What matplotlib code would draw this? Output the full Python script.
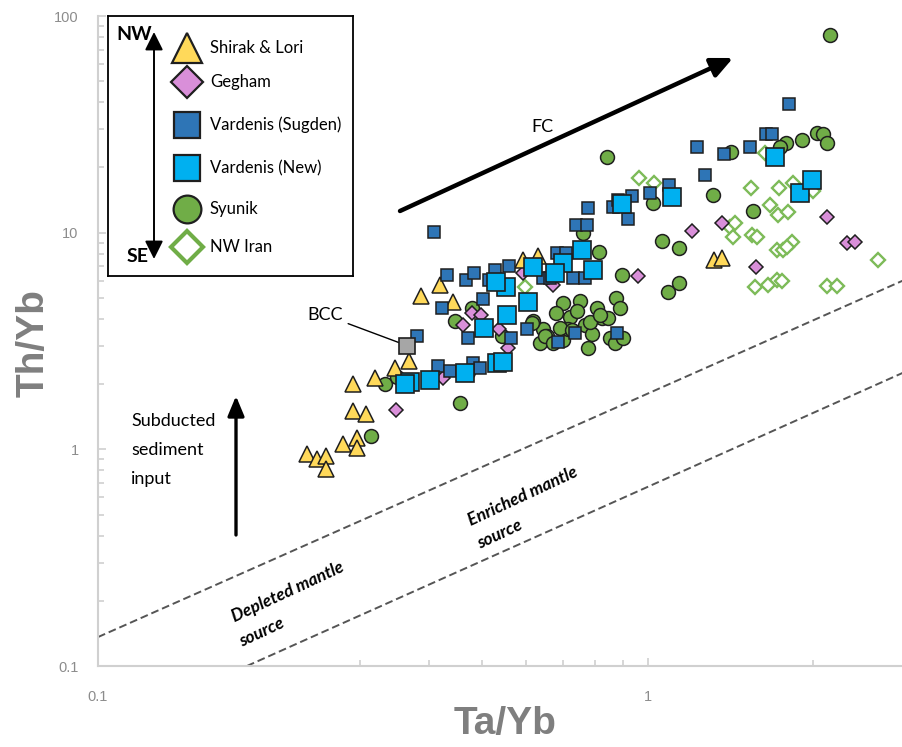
import matplotlib
matplotlib.use("Agg")
import matplotlib.pyplot as plt

W, H = 902, 747

# Ta/Yb vs Th/Yb by volcanic field
shirak_ta = [0.240, 0.250, 0.260, 0.260, 0.279, 0.296, 0.296, 0.291, 0.307, 0.291,
             0.319, 0.347, 0.368, 0.387, 0.419, 0.442, 0.593, 0.631, 1.318, 1.363]
shirak_th = [0.954, 0.905, 0.934, 0.813, 1.062, 1.131, 1.017, 1.508, 1.46, 2.01,
             2.14, 2.38, 2.57, 5.08, 5.71, 4.81, 7.45, 7.77, 7.45, 7.61]

gegham_ta = [0.348, 0.424, 0.461, 0.479, 0.497, 0.536, 0.557, 0.593, 0.672, 0.959,
             1.202, 1.363, 1.572, 2.116, 2.30, 2.38]
gegham_th = [1.52, 2.14, 3.73, 4.28, 4.15, 3.61, 2.95, 6.49, 5.71, 6.28,
             10.14, 11.04, 6.91, 11.77, 8.92, 9.02]

sugden_ta = [0.408, 0.380, 0.431, 0.422, 0.467, 0.483, 0.501, 0.527, 0.514, 0.559,
             0.471, 0.564, 0.603, 0.686, 0.737, 0.878, 0.683, 0.710, 0.644, 0.663,
             0.730, 0.768, 0.740, 0.775, 0.778, 0.864, 0.920, 0.935, 1.008, 1.092,
             1.228, 1.269, 1.375, 1.533, 1.639, 1.681, 1.805, 0.415, 0.436, 0.481,
             0.495, 0.882]
sugden_th = [10.03, 3.35, 6.35, 4.51, 6.02, 6.48, 4.92, 6.69, 6.02, 6.99,
             3.28, 3.28, 3.61, 3.14, 3.46, 3.46, 8.02, 8.02, 6.15, 6.15,
             6.15, 6.15, 10.81, 10.81, 12.95, 13.09, 11.52, 14.72, 15.20, 16.55,
             24.8, 18.40, 23.0, 24.8, 28.5, 28.5, 39.2, 2.435, 2.31, 2.51,
             2.38, 14.1]

new_ta = [0.369, 0.362, 0.401, 0.465, 0.531, 0.545, 0.503, 0.554, 0.605, 0.552,
          0.529, 0.618, 0.701, 0.678, 0.759, 0.794, 0.897, 1.106, 1.702, 1.890, 1.987]
new_th = [2.053, 2.01, 2.098, 2.26, 2.51, 2.54, 3.65, 4.15, 4.81, 5.59,
          5.89, 6.91, 7.21, 6.48, 8.28, 6.69, 13.51, 14.56, 22.3, 15.20, 17.45]

syunik_ta = [2.142, 0.842, 1.415, 1.782, 1.905, 2.029, 2.080, 2.116, 1.738, 1.021,
             1.313, 1.552, 1.060, 1.139, 0.897, 0.815, 1.087, 1.139, 0.875, 0.889,
             0.762, 0.752, 0.701, 0.681, 0.722, 0.743, 0.808, 0.825, 0.768, 0.791,
             0.853, 0.871, 0.778, 0.701, 0.644, 0.636, 0.716, 0.901, 0.692, 0.655,
             0.618, 0.446, 0.479, 0.543, 0.650, 0.672, 0.471, 0.455, 0.333, 0.350,
             0.314, 0.785, 0.846, 0.615, 0.818, 0.727]
syunik_th = [81.7, 22.3, 23.5, 25.9, 26.7, 28.8, 28.5, 25.9, 24.8, 13.66,
             14.87, 12.55, 9.12, 8.46, 6.35, 8.11, 5.35, 5.83, 5.02, 4.51,
             9.93, 4.86, 4.76, 4.28, 4.06, 4.37, 4.51, 4.02, 3.73, 3.42,
             3.28, 3.08, 2.95, 3.18, 3.61, 3.08, 3.61, 3.28, 3.65, 3.35,
             3.93, 3.93, 4.51, 3.35, 3.35, 3.08, 2.28, 1.64, 2.01, 2.16,
             1.155, 3.85, 4.02, 3.81, 4.15, 3.54]

iran_ta = [0.963, 1.025, 1.539, 1.731, 1.835, 1.946, 1.632, 1.667, 1.723, 1.797,
           1.410, 1.440, 1.427, 1.545, 1.578, 1.716, 1.760, 1.827, 1.789, 1.565,
           1.653, 1.716, 1.752, 2.116, 2.206, 2.62, 0.598, 1.995]
iran_th = [17.82, 16.90, 16.02, 16.02, 16.90, 15.7, 23.26, 13.37, 12.02, 12.41,
           10.58, 11.04, 9.51, 9.72, 9.51, 8.28, 8.28, 9.02, 8.55, 5.59,
           5.71, 6.02, 5.96, 5.65, 5.65, 7.45, 5.59, 15.5]

bcc_ta, bcc_th = 0.365, 3.01

# mantle array boundaries
upper_ta = [0.1, 2.95]
upper_th = [0.136, 6.1]
lower_ta = [0.1866, 2.95]
lower_th = [0.1, 2.29]

groups = [
    ("Shirak & Lori", "^", "#FFD95A", "#1f1f1f"),
    ("Gegham", "D", "#D98FD9", "#1f1f1f"),
    ("Vardenis (Sugden)", "s", "#2E75B6", "#1f1f1f"),
    ("Vardenis (New)", "s", "#00B0F0", "#1f1f1f"),
    ("Syunik", "o", "#70AD47", "#1f1f1f"),
    ("NW Iran", "D", "white", "#70AD47"),
]

AXIS_GREY = "#8c8c8c"
SPINE_GREY = "#d0d0d0"
narrow = ["Liberation Sans Narrow", "Liberation Sans", "DejaVu Sans"]
plt.rcParams["font.family"] = ["Lato", "DejaVu Sans"]


def fpx(x, y):
    return (x / W, 1 - y / H)


fig = plt.figure(figsize=(W / 100, H / 100), dpi=100)
ax = fig.add_axes([98 / W, 1 - 666 / H, (W - 98) / W, 650 / H])
ax.set_xscale("log")
ax.set_yscale("log")
ax.set_xlim(0.1, 2.9)
ax.set_ylim(0.1, 100)

for s in ["top", "right"]:
    ax.spines[s].set_visible(False)
for s in ["left", "bottom"]:
    ax.spines[s].set_color(SPINE_GREY)
    ax.spines[s].set_linewidth(1.5)

ax.set_xticks([0.1, 1])
ax.set_xticklabels(["0.1", "1"])
ax.set_xticks([0.3, 0.4, 0.5, 0.6, 0.7, 0.8, 0.9, 2], minor=True)
ax.set_yticks([0.1, 1, 10, 100])
ax.set_yticklabels(["0.1", "1", "10", "100"])
ax.set_yticks([m * d for d in (0.1, 1, 10) for m in range(2, 10)], minor=True)
ax.xaxis.set_minor_formatter(plt.NullFormatter())
ax.yaxis.set_minor_formatter(plt.NullFormatter())
ax.tick_params(which="both", direction="in", color=SPINE_GREY, width=1.2,
               labelcolor=AXIS_GREY, labelsize=10.5)
ax.tick_params(which="major", length=6)
ax.tick_params(which="minor", length=4)
ax.tick_params(axis="x", pad=17)
ax.tick_params(axis="y", pad=14)
for lab in ax.get_xticklabels() + ax.get_yticklabels():
    lab.set_family(narrow)

# dashed mantle array lines
ax.plot(upper_ta, upper_th, ls=(0, (4, 2)), color="#555555", lw=1.4, zorder=1)
ax.plot(lower_ta, lower_th, ls=(0, (4, 2)), color="#555555", lw=1.4, zorder=1)

ax.plot(iran_ta, iran_th, ls="none", marker="D", ms=7.0, mfc="white",
        mec="#7dbb58", mew=1.7, zorder=2)
ax.plot(syunik_ta, syunik_th, ls="none", marker="o", ms=10, mfc="#70AD47",
        mec="#1f1f1f", mew=1.1, zorder=3)
ax.plot(gegham_ta, gegham_th, ls="none", marker="D", ms=7.2, mfc="#D98FD9",
        mec="#1f1f1f", mew=1.1, zorder=4)
ax.plot(shirak_ta, shirak_th, ls="none", marker="^", ms=11, mfc="#FFD95A",
        mec="#1f1f1f", mew=1.1, zorder=5)
ax.plot(sugden_ta, sugden_th, ls="none", marker="s", ms=8.8, mfc="#2E75B6",
        mec="#1f1f1f", mew=1.1, zorder=6)
ax.plot(new_ta, new_th, ls="none", marker="s", ms=12.4, mfc="#00B0F0",
        mec="#1f1f1f", mew=1.2, zorder=7)
ax.plot([bcc_ta], [bcc_th], ls="none", marker="s", ms=11, mfc="#A6A6A6",
        mec="#1f1f1f", mew=1.2, zorder=8)

ax.annotate("BCC", xy=(bcc_ta, bcc_th), xytext=fpx(325, 315),
            textcoords="figure fraction", fontsize=13, ha="center", va="center",
            arrowprops=dict(arrowstyle="-", lw=1.0, color="black",
                            shrinkA=2, shrinkB=6))

# FC trend arrow
ax.annotate("", xy=fpx(733, 58), xytext=fpx(400, 211),
            xycoords="figure fraction", textcoords="figure fraction",
            arrowprops=dict(arrowstyle="-|>,head_length=1.3,head_width=0.6",
                            mutation_scale=10, lw=3.2, color="black",
                            shrinkA=0, shrinkB=0))
fig.text(*fpx(542, 127), "FC", fontsize=13, ha="center", va="center")

# subducted sediment arrow
ax.annotate("", xy=fpx(236, 396), xytext=fpx(236, 535),
            xycoords="figure fraction", textcoords="figure fraction",
            arrowprops=dict(arrowstyle="-|>,head_length=1.2,head_width=0.5",
                            mutation_scale=10, lw=2.4, color="black",
                            shrinkA=0, shrinkB=0))
for txt, yy in [("Subducted", 421), ("sediment", 450), ("input", 479)]:
    fig.text(*fpx(131, yy), txt, fontsize=13, ha="left", va="center")

# mantle source labels
for txt, (xx, yy) in [("Depleted mantle", (288, 592)), ("source", (262, 632)),
                      ("Enriched mantle", (523, 496)), ("source", (500, 534))]:
    fig.text(*fpx(xx, yy), txt, fontsize=12.5, fontstyle="italic",
             fontweight="bold", rotation=25, rotation_mode="anchor",
             ha="center", va="center")

fig.text(*fpx(505, 724), "Ta/Yb", fontsize=28, fontweight="bold",
         color="#7f7f7f", ha="center", va="center", family=narrow)
fig.text(*fpx(34, 343), "Th/Yb", fontsize=28, fontweight="bold",
         color="#7f7f7f", ha="center", va="center", rotation=90, family=narrow)

# legend panel with NW-SE arrow
lax = fig.add_axes([108 / W, 1 - 276 / H, 245 / W, 260 / H], zorder=10)
lax.set_xlim(0, 245)
lax.set_ylim(260, 0)
lax.set_xticks([])
lax.set_yticks([])
for s in lax.spines.values():
    s.set_color("black")
    s.set_linewidth(1.3)

rows_y = [32, 66, 109, 152, 193, 231]
leg_ms = [21, 16, 18.5, 18.5, 20, 16]
for (label, mk, fc, ec), yy, ms in zip(groups, rows_y, leg_ms):
    mew = 3 if label == "NW Iran" else 1.6
    lax.plot([79], [yy], ls="none", marker=mk, ms=ms, mfc=fc, mec=ec, mew=mew,
             clip_on=False)
    lax.text(102, yy, label, fontsize=12, ha="left", va="center")

lax.annotate("", xy=(46, 16), xytext=(46, 243),
             arrowprops=dict(arrowstyle="<|-|>,head_length=1.1,head_width=0.55",
                             mutation_scale=10, lw=1.4, color="black",
                             shrinkA=0, shrinkB=0))
lax.text(26, 18, "NW", fontsize=14, fontweight="bold", ha="center", va="center")
lax.text(30, 241, "SE", fontsize=14, fontweight="bold", ha="center", va="center")

fig.savefig("out.png", dpi=100)
